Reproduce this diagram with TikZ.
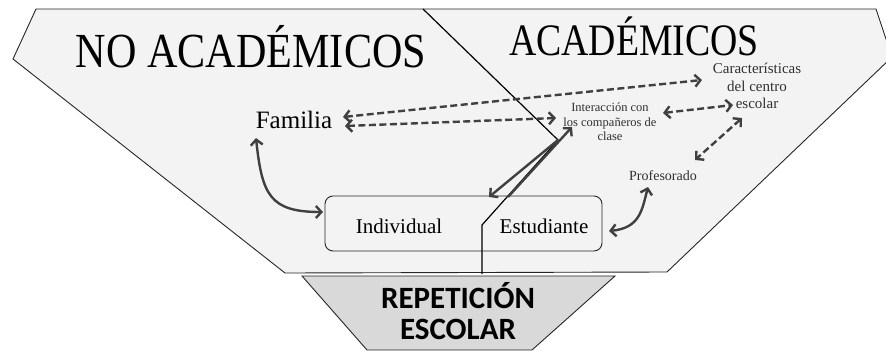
\documentclass[tikz,border=0pt]{standalone}
\usepackage{fontspec}
\setmainfont{Liberation Serif}
\newfontfamily\carlito{Carlito}
\usetikzlibrary{arrows.meta}
\definecolor{fillA}{HTML}{F3F3F3}
\definecolor{fillB}{HTML}{D9D9D9}
\definecolor{arr}{HTML}{404040}
\definecolor{lbl}{HTML}{303030}
\begin{document}
\begin{tikzpicture}[x=1pt,y=-1pt,
  mytip/.tip={Straight Barb[length=5.5pt,width=12pt,line width=2.4pt]},
  dblarrow/.style={draw=arr,line width=2.4pt,mytip-mytip},
  sglarrow/.style={draw=arr,line width=2.4pt,-mytip},
  dshline/.style={dash pattern=on 7pt off 3.5pt},
  outline/.style={draw=black!85,line width=0.9pt,line join=miter},
  labtext/.style={inner sep=0pt,text=black,text depth=0pt},
  smalltext/.style={inner sep=0pt,text=lbl,align=center}]
\useasboundingbox (0,0) rectangle (886,356);
% outer shape
\draw[outline,fill=fillA] (36,9) -- (876,9) -- (892,57) -- (667,272) -- (285,273) -- (13,59) -- cycle;
% bottom trapezoid
\draw[outline,fill=fillB] (302,276) -- (615,276) -- (532,350) -- (367,350) -- cycle;
% titles
\node[labtext,anchor=base] (tno) at (251,67) {\scalebox{0.86}[1]{\fontsize{49}{49}\selectfont NO ACADÉMICOS}};
\node[labtext,anchor=base] (tac) at (634,55) {\scalebox{0.84}[1]{\fontsize{45}{45}\selectfont ACADÉMICOS}};
% labels
\node[labtext,anchor=base] (fam) at (294,128) {\fontsize{25}{25}\selectfont Familia};
\node[smalltext,font=\fontsize{12.5}{14.5}\selectfont] (inter) at (610,122) {Interacción con\\los compañeros de\\clase};
\node[smalltext,font=\fontsize{15}{17.5}\selectfont] (carac) at (757,86) {Características\\del centro\\escolar};
\node[smalltext,anchor=base,font=\fontsize{14}{14}\selectfont] (prof) at (663,180) {Profesorado};
% student box
\node[draw=black!85,line width=0.9pt,rounded corners=8pt,minimum width=277pt,minimum height=55pt,inner sep=0pt] (box) at (463.5,223.5) {};
\node[labtext,anchor=base] (ind) at (399,233) {\fontsize{21}{21}\selectfont Individual};
\node[labtext,anchor=base] (est) at (544,233) {\fontsize{21}{21}\selectfont Estudiante};
% repeticion
\node[inner sep=0pt,align=center,font=\carlito\bfseries\fontsize{31}{31}\selectfont] (rep) at (458,311) {REPETICIÓN\\ESCOLAR};
% divider
\coordinate (d1) at (423,9);
\coordinate (d2) at (558,140);
\coordinate (d3) at (482,225);
\coordinate (d4) at (482,274);
\draw[black,line width=1.2pt] (d1) -- (d2) -- (d3) -- (d4);
% named arrow end points
\coordinate (famA) at (343,117);
\coordinate (famB) at (345,126);
\coordinate (caracW) at (702,80);
\coordinate (interW) at (556,118);
\coordinate (interE) at (663,113);
\coordinate (caracS) at (733,105);
\coordinate (caracB) at (742,118);
\coordinate (profN) at (695,160);
\coordinate (famS) at (256,138);
\coordinate (boxW) at (323,212);
\coordinate (boxE) at (609,231);
\coordinate (profS) at (648,187);
\coordinate (interSW) at (572,127);
\coordinate (boxTop) at (508,197);
\coordinate (boxTopL) at (489,197);
% dashed arrows
\draw[dblarrow,dshline] (famA) -- (caracW);
\draw[dblarrow,dshline] (famB) -- (interW);
\draw[dblarrow,dshline] (interE) -- (caracS);
\draw[dblarrow,dshline] (caracB) -- (profN);
% solid curved arrows
\draw[dblarrow] (famS) .. controls (262,195) and (270,212) .. (boxW);
\draw[dblarrow] (boxE) .. controls (640,228) and (642,210) .. (profS);
% solid straight arrows
\draw[sglarrow] (boxTop) -- (interSW);
\draw[sglarrow] (d2) -- (boxTopL);
\end{tikzpicture}
\end{document}
